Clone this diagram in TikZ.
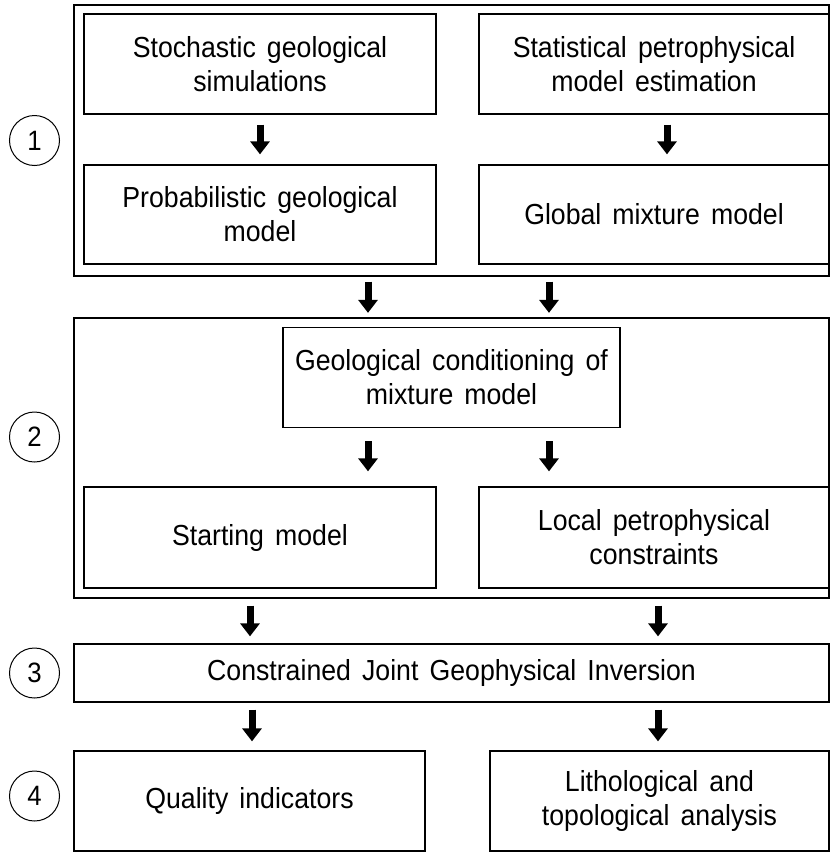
\documentclass[tikz,border=0pt]{standalone}
\usepackage{fontspec}
\setmainfont{Liberation Sans}[FakeStretch=0.92, WordSpace=1.5]
\usetikzlibrary{arrows.meta}
\begin{document}
\begin{tikzpicture}[x=1pt, y=-1pt, align=center,
  every node/.style = {draw, line width=1.3pt, inner sep=2pt,
    font=\fontsize{29}{34}\selectfont},
  box/.style = {shape=rectangle, minimum height=100pt},
  group/.style = {shape=rectangle},
  stage/.style = {shape=circle, line width=1pt, minimum size=50pt,
    inner sep=0pt, font=\fontsize{28}{30}\selectfont},
  flow/.style = {line width=7pt, -{Triangle[width=19pt, length=13pt]}}, ]
    \useasboundingbox (0,0) rectangle (830,852);
    \node[group, minimum width=755pt, minimum height=271pt] (grp1) at (451.5,140.5) {};
    \node[group, minimum width=755pt, minimum height=280pt] (grp2) at (451.5,458) {};
    \node[box, minimum width=352pt] (stoch) at (260,64) {Stochastic geological\\simulations};
    \node[box, minimum width=350pt] (stat) at (654,64) {Statistical petrophysical\\model estimation};
    \node[box, minimum width=352pt, minimum height=99pt] (prob) at (260,214.5) {Probabilistic geological\\model};
    \node[box, minimum width=350pt, minimum height=99pt] (glob) at (654,214.5) {Global mixture model};
    \node[box, minimum width=337pt] (geol) at (451.5,377.5) {Geological conditioning of\\mixture model};
    \node[box, minimum width=352pt, minimum height=101pt] (start) at (260,537.5) {Starting model};
    \node[box, minimum width=350pt, minimum height=101pt] (local) at (654,537.5) {Local petrophysical\\constraints};
    \node[box, minimum width=755pt, minimum height=58pt] (inv) at (451.5,673) {Constrained Joint Geophysical Inversion};
    \node[box, minimum width=351pt] (qual) at (249.5,801) {Quality indicators};
    \node[box, minimum width=339pt] (litho) at (659.5,801) {Lithological and\\topological analysis};
    \node[stage] (s1) at (34.5,140.5) {1};
    \node[stage] (s2) at (34.5,437) {2};
    \node[stage] (s3) at (34.5,673) {3};
    \node[stage] (s4) at (34.5,796) {4};
    \draw[flow, shorten <=10pt, shorten >=10pt] (stoch) -- (prob);
    \draw[flow, shorten <=10pt, shorten >=10pt] ([xshift=13pt]stat.south) -- ([xshift=13pt]glob.north);
    \draw[flow, shorten <=5pt, shorten >=14pt] ([xshift=-83.5pt]geol.north |- grp1.south) -- ([xshift=-83.5pt]geol.north);
    \draw[flow, shorten <=5pt, shorten >=14pt] ([xshift=97.5pt]geol.north |- grp1.south) -- ([xshift=97.5pt]geol.north);
    \draw[flow, shorten <=13pt, shorten >=15pt] ([xshift=-83.5pt]geol.south) -- ([xshift=-83.5pt]geol.south |- start.north);
    \draw[flow, shorten <=13pt, shorten >=15pt] ([xshift=97.5pt]geol.south) -- ([xshift=97.5pt]geol.south |- local.north);
    \draw[flow, shorten <=7pt, shorten >=7pt] ([xshift=-10pt]start.south |- grp2.south) -- ([xshift=-10pt]start.south |- inv.north);
    \draw[flow, shorten <=7pt, shorten >=7pt] ([xshift=4pt]local.south |- grp2.south) -- ([xshift=4pt]local.south |- inv.north);
    \draw[flow, shorten <=7pt, shorten >=9pt] ([xshift=2.5pt]qual.north |- inv.south) -- ([xshift=2.5pt]qual.north);
    \draw[flow, shorten <=7pt, shorten >=9pt] ([xshift=-1.5pt]litho.north |- inv.south) -- ([xshift=-1.5pt]litho.north);
\end{tikzpicture}
\end{document}
